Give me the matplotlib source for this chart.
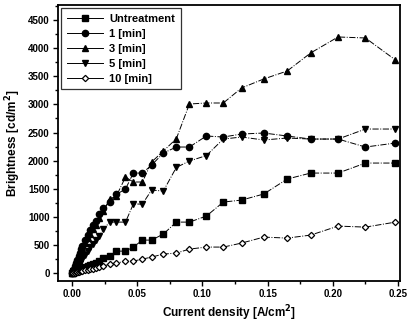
import numpy as np
import matplotlib
matplotlib.use("Agg")
import matplotlib.pyplot as plt
from matplotlib.ticker import MultipleLocator, FormatStrFormatter

# current density [A/cm2], shared by all samples
current = [0, 0.001, 0.002, 0.003, 0.004, 0.005, 0.006, 0.007, 0.008, 0.010,
           0.012, 0.014, 0.016, 0.018, 0.021, 0.024, 0.029, 0.034, 0.041, 0.047,
           0.054, 0.061, 0.070, 0.080, 0.090, 0.103, 0.116, 0.130, 0.147, 0.165,
           0.183, 0.204, 0.225, 0.248]

# brightness [cd/m2]
untreat = [0, 10, 20, 30, 40, 50, 60, 70, 80, 100, 120, 140, 160, 180, 220, 267,
           302, 391, 391, 463, 587, 587, 694, 907, 907, 1014, 1263, 1299, 1406,
           1673, 1779, 1779, 1957, 1957]
min1 = [0, 60, 120, 180, 240, 300, 360, 420, 480, 580, 680, 760, 850, 930, 1050,
        1150, 1263, 1400, 1495, 1779, 1779, 1920, 2135, 2242, 2242, 2438, 2420,
        2473, 2491, 2438, 2384, 2384, 2242, 2313]
min3 = [0, 50, 100, 160, 220, 280, 340, 400, 450, 540, 630, 700, 780, 860, 980,
        1100, 1320, 1370, 1708, 1620, 1620, 1975, 2170, 2390, 3007, 3025, 3025,
        3292, 3452, 3594, 3915, 4199, 4181, 3790]
min5 = [0, 30, 60, 90, 120, 150, 180, 220, 260, 330, 400, 460, 520, 580, 660, 783,
        907, 907, 907, 1228, 1228, 1477, 1459, 1880, 1993, 2090, 2384, 2420, 2367,
        2402, 2384, 2384, 2562, 2562]
min10 = [0, 5, 10, 15, 20, 25, 30, 35, 40, 50, 60, 70, 80, 90, 105, 125, 160, 178,
         213, 213, 249, 285, 338, 356, 427, 463, 463, 534, 640, 623, 676, 836, 818,
         907]

labels = ["Untreatment", "1 [min]", "3 [min]", "5 [min]", "10 [min]"]

plt.rcParams['font.family'] = ['Liberation Sans', 'DejaVu Sans']
plt.rcParams['font.weight'] = 'bold'

fig = plt.figure(figsize=(4.09, 3.28), dpi=100)
ax = fig.add_axes([0.142, 0.143, 0.836, 0.842])

line_kw = dict(color='black', linestyle='-.', linewidth=0.7)
ax.plot(current, untreat, marker='s', markersize=4, label=labels[0], **line_kw)
ax.plot(current, min1, marker='o', markersize=4.5, label=labels[1], **line_kw)
ax.plot(current, min3, marker='^', markersize=4.5, label=labels[2], **line_kw)
ax.plot(current, min5, marker='v', markersize=4.5, label=labels[3], **line_kw)
ax.plot(current, min10, marker='D', markersize=3.2, markerfacecolor='white',
        markeredgewidth=0.9, label=labels[4], **line_kw)

ax.set_xlim(-0.0107, 0.2515)
ax.set_ylim(-142, 4769)
ax.xaxis.set_major_locator(MultipleLocator(0.05))
ax.xaxis.set_minor_locator(MultipleLocator(0.025))
ax.xaxis.set_major_formatter(FormatStrFormatter('%.2f'))
ax.yaxis.set_major_locator(MultipleLocator(500))
ax.yaxis.set_minor_locator(MultipleLocator(250))
ax.tick_params(which='both', direction='out', labelsize=7, width=1, pad=2.5)
ax.tick_params(which='major', length=3.5)
ax.tick_params(which='minor', length=2)
for s in ax.spines.values():
    s.set_linewidth(1.3)

ax.set_xlabel("Current density [A/cm$^\\mathbf{2}$]", fontsize=8.5, fontweight='bold', labelpad=3)
ax.set_ylabel("Brightness [cd/m$^\\mathbf{2}$]", fontsize=8.5, fontweight='bold', labelpad=4)

leg = ax.legend(loc='upper left', fontsize=8, frameon=True, fancybox=False,
                edgecolor='black', borderaxespad=0.3, handlelength=3.2,
                labelspacing=0.45, borderpad=0.5, handletextpad=0.6)
leg.get_frame().set_linewidth(0.9)
for h in leg.get_lines():
    h.set_linestyle('-')

fig.savefig("out.png", dpi=100)
